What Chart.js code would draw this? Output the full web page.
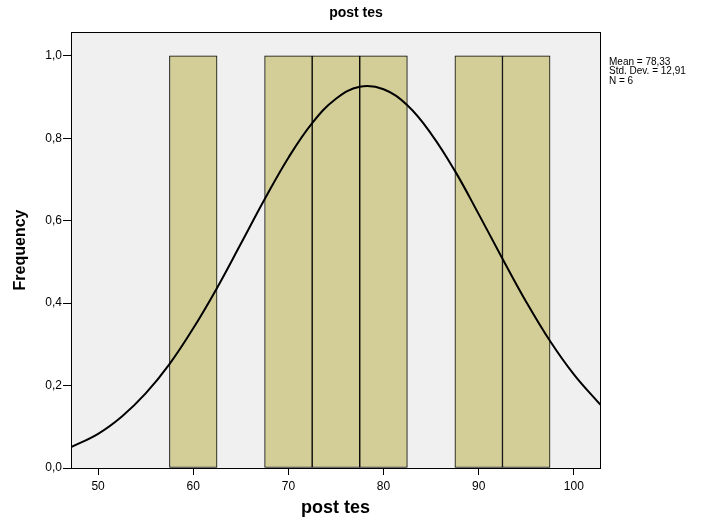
<!DOCTYPE html>
<html>
<head>
<meta charset="utf-8">
<script src="https://cdn.jsdelivr.net/npm/chart.js@4/dist/chart.umd.min.js"></script>
<style>
  body { margin: 0; background: #fff; }
</style>
</head>
<body>
<canvas id="histChart" width="717" height="517"></canvas>
<script>
// histogram bins (centres) and counts
const binCenters = [60, 70, 75, 80, 90, 95];
const binCounts = [1, 1, 1, 1, 1, 1];

// normal curve
const curveX = [47, 50, 52.5, 55, 57.5, 60, 62.5, 65, 67.5, 70, 72.5, 75, 77.5, 80, 82.5, 85, 87.5, 90, 92.5, 95, 97.5, 100, 102.5, 103];
const curveY = [0.049, 0.083, 0.125, 0.181, 0.252, 0.339, 0.437, 0.544, 0.652, 0.753, 0.837, 0.896, 0.925, 0.919, 0.880, 0.811, 0.721, 0.616, 0.508, 0.403, 0.308, 0.227, 0.161, 0.149];

const xTickValues = [50, 60, 70, 80, 90, 100];
const yTickValues = [0, 0.2, 0.4, 0.6, 0.8, 1.0];
const statLines = ['Mean = 78,33', 'Std. Dev. = 12,91', 'N = 6'];
const chartTitle = 'post tes';

const fontFamily = '"Liberation Sans", Arial, sans-serif';

const plotFrame = {
    id: 'plotFrame',
    beforeDraw(chart) {
        const a = chart.chartArea;
        const ctx = chart.ctx;
        ctx.save();
        ctx.fillStyle = '#f0f0f0';
        ctx.fillRect(a.left, a.top, a.right - a.left, a.bottom - a.top);
        ctx.restore();
    },
    afterDraw(chart) {
        const a = chart.chartArea;
        const ctx = chart.ctx;
        ctx.save();
        ctx.strokeStyle = '#000';
        ctx.lineWidth = 1;
        ctx.strokeRect(a.left + 0.5, a.top + 0.5, a.right - a.left, a.bottom - a.top);
        // title
        ctx.fillStyle = '#000';
        ctx.font = 'bold 14px ' + fontFamily;
        ctx.textAlign = 'center';
        ctx.textBaseline = 'middle';
        ctx.fillText(chartTitle, 356, 13);
        // stats box text
        ctx.font = '10px ' + fontFamily;
        ctx.textAlign = 'left';
        statLines.forEach((t, i) => ctx.fillText(t, a.right + 9, a.top + 30 + i * 9.5));
        ctx.restore();
    }
};

const ctx = document.getElementById('histChart');
new Chart(ctx, {
    data: {
        datasets: [{
            type: 'line',
            data: curveX.map((x, i) => ({ x: x, y: curveY[i] })),
            borderColor: '#000',
            borderWidth: 2,
            pointRadius: 0,
            tension: 0.4,
            order: 0
        }, {
            type: 'bar',
            data: binCenters.map((x, i) => ({ x: x, y: binCounts[i] })),
            backgroundColor: '#d3ce98',
            borderColor: '#000',
            borderWidth: 1,
            borderSkipped: false,
            barPercentage: 1,
            categoryPercentage: 1,
            order: 1
        }]
    },
    options: {
        responsive: false,
        animation: false,
        layout: { padding: { left: 0, right: 117, top: 32, bottom: 0 } },
        plugins: {
            legend: { display: false },
            tooltip: { enabled: false },
            title: { display: false }
        },
        scales: {
            x: {
                type: 'linear',
                offset: false,
                min: 47.15,
                max: 102.75,
                afterFit: s => { s.height = 49; },
                afterBuildTicks: s => { s.ticks = xTickValues.map(v => ({ value: v })); },
                grid: { offset: false, drawOnChartArea: false, color: '#000', tickLength: 7 },
                border: { color: '#000' },
                ticks: { color: '#000', padding: 4, font: { family: fontFamily, size: 12 } },
                title: {
                    display: true,
                    text: 'post tes',
                    color: '#000',
                    font: { family: fontFamily, size: 18, weight: 'bold', lineHeight: 1 },
                    padding: { top: 0, bottom: 0 }
                }
            },
            y: {
                min: 0,
                max: 1.058,
                afterFit: s => { s.width = 71; },
                afterBuildTicks: s => { s.ticks = yTickValues.map(v => ({ value: v })); },
                grid: { drawOnChartArea: false, color: '#000', tickLength: 8 },
                border: { color: '#000' },
                ticks: {
                    color: '#000',
                    padding: 1,
                    font: { family: fontFamily, size: 12 },
                    callback: v => v.toFixed(1).replace('.', ',')
                },
                title: {
                    display: true,
                    text: 'Frequency',
                    color: '#000',
                    font: { family: fontFamily, size: 16, weight: 'bold', lineHeight: 1 },
                    padding: { top: 13, bottom: 0 }
                }
            }
        }
    },
    plugins: [plotFrame]
});
</script>
</body>
</html>
